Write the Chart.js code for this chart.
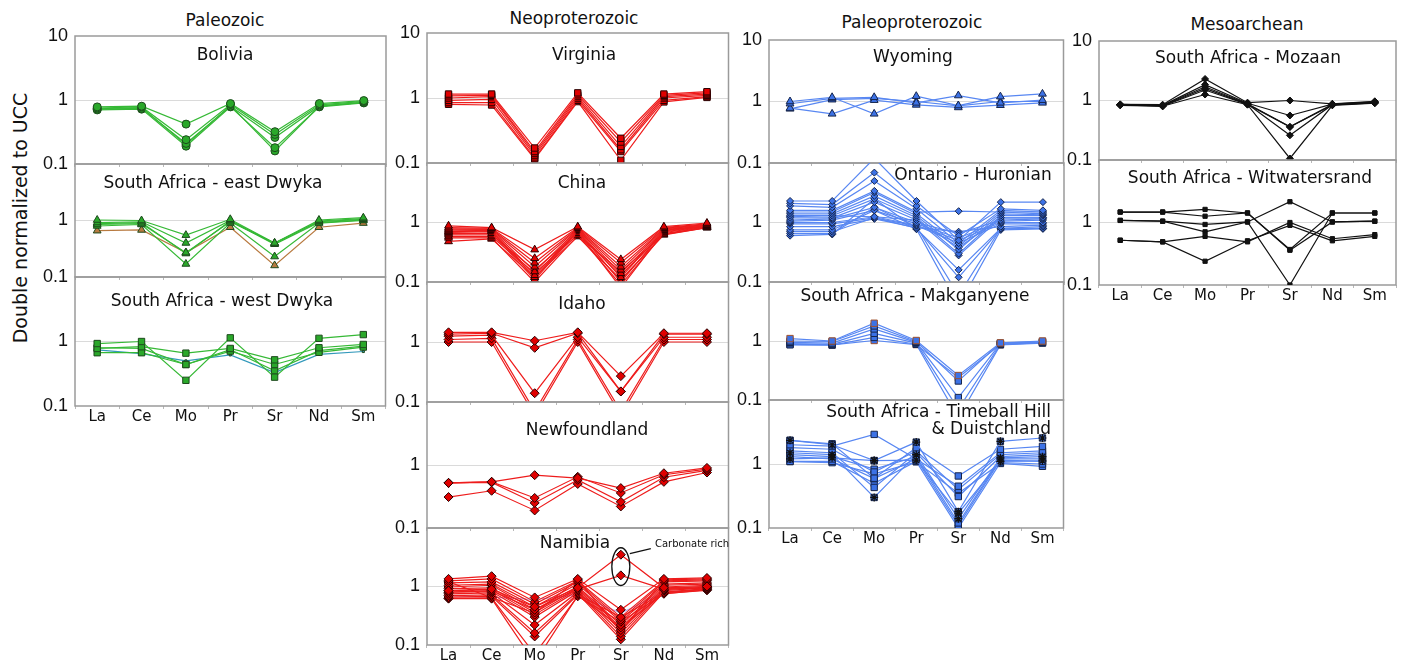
<!DOCTYPE html>
<html>
<head>
<meta charset="utf-8">
<script src="https://cdn.jsdelivr.net/npm/chart.js@4.4.1/dist/chart.umd.min.js"></script>
<style>
    body {
        margin: 0;
        background: #fff;
        width: 1409px;
        height: 661px;
        position: relative;
        overflow: hidden;
        font-family: "DejaVu Sans", sans-serif;
        color: #111;
    }
    canvas { position: absolute; }
    .lbl {
        position: absolute;
        white-space: nowrap;
        transform: translate(-50%, -50%);
        font-size: 17px;
        line-height: 1;
    }
    .ytitle {
        position: absolute;
        left: 20px;
        top: 218px;
        white-space: nowrap;
        font-size: 19px;
        transform: translate(-50%, -50%) rotate(-90deg);
    }
    .note { font-size: 10px; transform: translate(0, -50%); }
    .two {
        position: absolute;
        text-align: right;
        font-size: 17px;
        line-height: 17px;
        white-space: nowrap;
    }
</style>
</head>
<body>

<div class="lbl" style="left:225px; top:20px">Paleozoic</div>
<div class="lbl" style="left:574px; top:18px">Neoproterozoic</div>
<div class="lbl" style="left:912px; top:22px">Paleoproterozoic</div>
<div class="lbl" style="left:1247px; top:24px">Mesoarchean</div>
<div class="ytitle">Double normalized to UCC</div>

<script>
const elements = ['La', 'Ce', 'Mo', 'Pr', 'Sr', 'Nd', 'Sm'];
const yTicks = [0.1, 1, 10];

/* ---------- Paleozoic ---------- */
const bolivia = [
    [0.78, 0.80, 0.42, 0.88, 0.32, 0.88, 0.98],
    [0.75, 0.78, 0.24, 0.85, 0.29, 0.84, 0.95],
    [0.72, 0.74, 0.21, 0.80, 0.26, 0.80, 0.92],
    [0.70, 0.72, 0.19, 0.78, 0.18, 0.78, 0.90],
    [0.73, 0.76, 0.20, 0.82, 0.16, 0.80, 0.92]
];
const eastDwyka = [
    [1.02, 1.00, 0.55, 1.05, 0.40, 1.02, 1.12],
    [0.92, 0.95, 0.40, 1.00, 0.39, 0.98, 1.08],
    [0.85, 0.88, 0.27, 0.95, 0.40, 0.95, 1.05],
    [0.80, 0.85, 0.17, 0.90, 0.23, 0.90, 1.00],
    [0.88, 0.92, 0.26, 0.98, 0.38, 0.92, 1.02],
    [0.66, 0.68, 0.27, 0.76, 0.16, 0.76, 0.90]
];
const westDwyka = [
    [0.93, 1.00, 0.25, 1.14, 0.28, 1.12, 1.28],
    [0.78, 0.83, 0.66, 0.78, 0.52, 0.80, 0.90],
    [0.67, 0.67, 0.44, 0.71, 0.44, 0.68, 0.82],
    [0.80, 0.78, 0.44, 0.75, 0.35, 0.72, 0.85],
    [0.74, 0.65, 0.50, 0.62, 0.33, 0.63, 0.70]
];

/* ---------- Neoproterozoic ---------- */
const virginia = [
    [1.15, 1.15, 0.17, 1.20, 0.24, 1.15, 1.25],
    [1.08, 1.10, 0.15, 1.12, 0.21, 1.10, 1.20],
    [1.00, 1.05, 0.14, 1.05, 0.18, 1.05, 1.15],
    [0.92, 0.95, 0.13, 0.98, 0.16, 1.00, 1.10],
    [0.85, 0.85, 0.12, 0.92, 0.15, 0.92, 1.05],
    [0.80, 0.78, 0.115, 0.88, 0.11, 0.87, 1.02]
];
const china = [
    [0.88, 0.82, 0.35, 0.85, 0.24, 0.85, 0.98],
    [0.82, 0.80, 0.25, 0.82, 0.21, 0.82, 0.95],
    [0.78, 0.78, 0.21, 0.80, 0.18, 0.80, 0.92],
    [0.75, 0.76, 0.18, 0.78, 0.16, 0.78, 0.90],
    [0.72, 0.74, 0.15, 0.76, 0.14, 0.76, 0.88],
    [0.70, 0.72, 0.13, 0.74, 0.12, 0.74, 0.88],
    [0.68, 0.70, 0.12, 0.72, 0.10, 0.72, 0.86],
    [0.65, 0.66, 0.11, 0.70, 0.08, 0.70, 0.85],
    [0.62, 0.62, 0.16, 0.66, 0.13, 0.68, 0.84],
    [0.58, 0.58, 0.14, 0.62, 0.09, 0.65, 0.83],
    [0.55, 0.55, 0.10, 0.60, 0.15, 0.63, 0.82],
    [0.48, 0.53, 0.12, 0.58, 0.11, 0.62, 0.82]
];
const idaho = [
    [1.45, 1.45, 1.05, 1.45, 0.27, 1.40, 1.40],
    [1.35, 1.40, 0.80, 1.40, 0.15, 1.35, 1.35],
    [1.25, 1.30, 0.14, 1.20, 0.15, 1.20, 1.20],
    [1.10, 1.15, 0.07, 1.10, 0.07, 1.10, 1.10],
    [1.00, 1.00, 0.06, 1.00, 0.06, 1.00, 1.00]
];
const newfoundland = [
    [0.52, 0.54, 0.69, 0.62, 0.43, 0.74, 0.90],
    [0.52, 0.54, 0.30, 0.65, 0.36, 0.70, 0.86],
    [0.52, 0.53, 0.25, 0.58, 0.26, 0.64, 0.82],
    [0.31, 0.39, 0.19, 0.50, 0.22, 0.54, 0.76]
];
const namibia = [
    [0.85, 0.90, 0.45, 0.95, 3.50, 0.95, 1.00],
    [0.80, 0.85, 0.40, 0.90, 1.55, 0.90, 0.95],
    [1.35, 1.50, 0.65, 1.35, 0.40, 1.35, 1.40],
    [1.25, 1.35, 0.55, 1.25, 0.30, 1.25, 1.30],
    [1.15, 1.20, 0.50, 1.20, 0.27, 1.20, 1.25],
    [1.05, 1.10, 0.45, 1.10, 0.25, 1.10, 1.15],
    [0.98, 1.05, 0.40, 1.00, 0.22, 1.05, 1.10],
    [0.92, 0.95, 0.36, 0.95, 0.20, 0.98, 1.05],
    [0.85, 0.88, 0.33, 0.90, 0.18, 0.92, 1.00],
    [0.80, 0.82, 0.30, 0.85, 0.16, 0.88, 0.98],
    [0.75, 0.78, 0.22, 0.80, 0.14, 0.85, 0.95],
    [0.70, 0.72, 0.16, 0.76, 0.125, 0.80, 0.92],
    [0.66, 0.68, 0.14, 0.72, 0.30, 0.78, 0.90],
    [0.63, 0.64, 0.07, 0.68, 0.25, 0.75, 0.88],
    [0.62, 0.62, 0.05, 0.70, 0.20, 0.76, 0.86],
    [1.20, 0.65, 0.35, 1.30, 0.17, 1.30, 1.35],
    [0.70, 0.66, 0.60, 0.72, 0.35, 0.80, 0.90]
];

/* ---------- Paleoproterozoic ---------- */
const wyoming = [
    [1.00, 1.17, 0.63, 1.22, 0.86, 1.20, 1.33],
    [0.92, 1.12, 1.17, 0.95, 1.25, 0.95, 1.05],
    [0.78, 0.63, 1.05, 0.88, 0.80, 0.87, 0.95],
    [0.76, 1.07, 1.12, 1.00, 0.85, 1.00, 1.00]
];
const ontario = [
    [2.30, 2.30, 12.0, 2.30, 0.50, 2.20, 2.20],
    [2.10, 2.00, 6.90, 1.90, 0.60, 1.70, 1.60],
    [1.90, 1.80, 5.00, 1.70, 0.45, 1.60, 1.50],
    [1.60, 1.60, 3.40, 1.50, 1.55, 1.50, 1.50],
    [1.50, 1.50, 3.20, 1.40, 0.40, 1.50, 1.40],
    [1.40, 1.40, 2.80, 1.30, 0.35, 1.40, 1.35],
    [1.30, 1.30, 2.50, 1.20, 0.30, 1.30, 1.30],
    [1.20, 1.20, 2.20, 1.10, 0.28, 1.20, 1.20],
    [1.10, 1.15, 1.80, 1.00, 0.65, 1.10, 1.15],
    [1.05, 1.10, 1.60, 0.95, 0.55, 1.05, 1.10],
    [1.00, 1.00, 1.25, 0.90, 0.50, 1.00, 1.00],
    [0.95, 0.95, 1.20, 0.88, 0.45, 0.95, 0.95],
    [0.85, 0.85, 1.15, 0.82, 0.70, 0.85, 0.90],
    [0.75, 0.75, 1.60, 0.78, 0.16, 0.80, 0.85],
    [0.70, 0.70, 1.20, 0.80, 0.12, 0.78, 0.80],
    [0.65, 0.65, 1.80, 0.85, 0.06, 0.80, 0.80],
    [0.60, 0.63, 2.50, 0.77, 0.04, 0.75, 0.78],
    [1.25, 1.30, 1.25, 1.10, 0.38, 1.20, 1.20]
];
const makganyene = [
    [1.10, 1.00, 2.00, 1.02, 0.26, 0.93, 1.00],
    [1.00, 0.98, 1.80, 0.98, 0.21, 0.92, 0.98],
    [0.95, 0.92, 1.60, 0.95, 0.11, 0.90, 0.96],
    [0.90, 0.88, 1.35, 0.92, 0.07, 0.88, 0.95],
    [0.86, 0.85, 1.15, 0.88, 0.05, 0.86, 0.92],
    [0.88, 0.86, 1.02, 0.87, 0.24, 0.87, 0.94]
];
const timeball = [
    [2.34, 2.00, 1.13, 2.20, 0.18, 2.26, 2.55],
    [2.34, 2.07, 0.60, 1.80, 0.65, 1.70, 1.88],
    [2.00, 1.90, 2.90, 1.20, 0.45, 1.50, 1.60],
    [1.80, 1.70, 0.75, 1.60, 0.40, 1.40, 1.50],
    [1.60, 1.50, 0.43, 1.50, 0.31, 1.30, 1.40],
    [1.50, 1.40, 0.30, 1.40, 0.14, 1.25, 1.30],
    [1.40, 1.30, 0.83, 1.30, 0.12, 1.20, 1.20],
    [1.30, 1.20, 0.59, 1.20, 0.11, 1.15, 1.10],
    [1.20, 1.25, 1.13, 1.15, 0.17, 1.10, 1.12],
    [1.10, 1.10, 0.50, 1.10, 0.10, 1.05, 1.00],
    [1.09, 1.05, 0.70, 1.08, 0.35, 1.02, 0.92]
];

/* ---------- Mesoarchean ---------- */
const mozaan = [
    [0.86, 0.85, 2.30, 0.92, 1.00, 0.88, 0.97],
    [0.86, 0.83, 1.85, 0.90, 0.56, 0.87, 0.95],
    [0.85, 0.82, 1.70, 0.88, 0.36, 0.86, 0.93],
    [0.85, 0.81, 1.60, 0.87, 0.26, 0.85, 0.92],
    [0.84, 0.80, 1.50, 0.86, 0.36, 0.84, 0.91],
    [0.83, 0.80, 1.26, 0.85, 0.106, 0.83, 0.90]
];
const witwatersrand = [
    [1.47, 1.47, 1.62, 1.42, 0.37, 1.42, 1.42],
    [1.47, 1.47, 1.26, 1.42, 0.36, 1.02, 1.05],
    [1.08, 1.05, 0.93, 1.02, 2.15, 1.02, 1.05],
    [1.08, 1.05, 0.71, 1.02, 0.10, 1.42, 1.42],
    [0.52, 0.49, 0.60, 0.49, 1.00, 0.55, 0.64],
    [0.52, 0.49, 0.24, 0.51, 0.90, 0.51, 0.60]
];

// colour schemes: line, marker fill, marker edge
const GREEN = { line: '#36b936', fill: '#2aa82a', edge: '#1d4a1d' };
const RED = { line: '#ee1c1c', fill: '#e00000', edge: '#2a0000' };
const BLUE = { line: '#5887f2', fill: '#3c72e6', edge: '#17264d' };
const BLACK = { line: '#111111', fill: '#111111', edge: '#111111' };

// box = [left, top, right, bottom] of the plot area
const panels = [
    { title: 'Bolivia', data: bolivia, box: [75, 36, 387, 164], top: true, s: GREEN, marker: 'circle', r: 4, tx: 225, ty: 54 },
    { title: 'South Africa - east Dwyka', data: eastDwyka, box: [75, 164, 387, 277], s: GREEN, marker: 'triangle', r: 4.5, tx: 213, ty: 182, tint: { 5: '#b87a40' } },
    { title: 'South Africa - west Dwyka', data: westDwyka, box: [75, 277, 387, 406], bottom: true, s: GREEN, marker: 'rect', r: 4.5, tx: 222, ty: 300, tint: { 4: '#3399bb' }, radii: { 4: 1.5 } },

    { title: 'Virginia', data: virginia, box: [427, 33, 730, 163], top: true, s: RED, marker: 'rect', r: 4.5, tx: 584, ty: 54 },
    { title: 'China', data: china, box: [427, 163, 730, 282], s: RED, marker: 'triangle', r: 4.5, tx: 582, ty: 182 },
    { title: 'Idaho', data: idaho, box: [427, 282, 730, 402], s: RED, marker: 'rectRot', r: 4.5, tx: 582, ty: 303 },
    { title: 'Newfoundland', data: newfoundland, box: [427, 402, 730, 528], s: RED, marker: 'rectRot', r: 4.5, tx: 587, ty: 429 },
    { title: 'Namibia', data: namibia, box: [427, 528, 730, 645], bottom: true, s: RED, marker: 'rectRot', r: 4.5, tx: 575, ty: 542, tint: { 16: '#b4a6e6' }, radii: { 16: 0 }, ring: true },

    { title: 'Wyoming', data: wyoming, box: [769, 40, 1065, 163], top: true, s: BLUE, marker: 'triangle', r: 4.5, tx: 913, ty: 56 },
    { title: 'Ontario - Huronian', data: ontario, box: [769, 163, 1065, 282], s: BLUE, marker: 'rectRot', r: 3.5, tx: 973, ty: 174 },
    { title: 'South Africa - Makganyene', data: makganyene, box: [769, 282, 1065, 400], s: BLUE, marker: 'rect', r: 4.5, tx: 915, ty: 295, edges: { 0: '#a0522d', 5: '#a0522d' } },
    { title: null, data: timeball, box: [769, 400, 1065, 528], bottom: true, s: BLUE, marker: 'rect', r: 4.5, starred: [0, 5, 8] },

    { title: 'South Africa - Mozaan', data: mozaan, box: [1099, 41, 1397, 160], top: true, s: BLACK, marker: 'rectRot', r: 3.5, tx: 1248, ty: 57 },
    { title: 'South Africa - Witwatersrand', data: witwatersrand, box: [1099, 160, 1397, 285], bottom: true, s: BLACK, marker: 'rect', r: 3, tx: 1250, ty: 177 }
];

const PAD_L = 46;   // room for the y tick labels
const PAD_T = 19;   // y scale asks for half a label + tick padding
const PAD_R = 4;
const X_AXIS_H = 26;

// grey box round each panel
const framePlugin = {
    id: 'frame',
    beforeDatasetsDraw(chart) {
        const { ctx, chartArea: a } = chart;
        ctx.save();
        ctx.strokeStyle = '#9a9a9a';
        ctx.lineWidth = 1.5;
        ctx.strokeRect(a.left, a.top, a.right - a.left, a.bottom - a.top);
        ctx.restore();
    }
};

// ellipse round the carbonate-rich Sr points, plus its leader line
const ringPlugin = {
    id: 'ring',
    afterDatasetsDraw(chart) {
        const { ctx, scales: { x, y } } = chart;
        const cx = x.getPixelForValue(elements.indexOf('Sr'));
        const top = y.getPixelForValue(4.6);
        const bot = y.getPixelForValue(1.04);
        ctx.save();
        ctx.strokeStyle = '#111';
        ctx.lineWidth = 1.3;
        ctx.beginPath();
        ctx.ellipse(cx, (top + bot) / 2, 9, (bot - top) / 2, 0, 0, Math.PI * 2);
        ctx.stroke();
        ctx.beginPath();
        ctx.moveTo(cx + 9, top + 6);
        ctx.lineTo(cx + 30, top + 1);
        ctx.stroke();
        ctx.restore();
    }
};

function addLabel(html, x, y, cls) {
    const d = document.createElement('div');
    d.className = cls || 'lbl';
    d.innerHTML = html;
    d.style.left = x + 'px';
    d.style.top = y + 'px';
    document.body.appendChild(d);
    return d;
}

panels.forEach(p => {
    const [l, t, r, b] = p.box;
    const padB = p.bottom ? 6 : PAD_T;
    const w = (r - l) + PAD_L + PAD_R;
    const h = (b - t) + PAD_T + padB + (p.bottom ? X_AXIS_H : 0);

    const canvas = document.createElement('canvas');
    canvas.width = w;
    canvas.height = h;
    canvas.style.left = (l - PAD_L) + 'px';
    canvas.style.top = (t - PAD_T) + 'px';
    document.body.appendChild(canvas);

    const datasets = p.data.map((row, i) => {
        const tint = p.tint && p.tint[i];
        const edge = (p.edges && p.edges[i]) || p.s.edge;
        const radius = p.radii && p.radii[i] !== undefined ? p.radii[i] : p.r;
        return {
            data: row,
            borderColor: tint || p.s.line,
            backgroundColor: tint || p.s.fill,
            borderWidth: 1.2,
            pointStyle: p.marker,
            pointRadius: radius,
            pointBackgroundColor: tint || p.s.fill,
            pointBorderColor: edge,
            pointBorderWidth: 1,
            tension: 0
        };
    });

    // asterisk marks laid over some of the square markers
    (p.starred || []).forEach(i => {
        datasets.unshift({
            data: p.data[i],
            showLine: false,
            pointStyle: 'star',
            pointRadius: 4,
            pointBorderColor: '#111',
            pointBorderWidth: 1.2
        });
    });

    new Chart(canvas.getContext('2d'), {
        type: 'line',
        data: { labels: elements, datasets },
        options: {
            responsive: false,
            animation: false,
            devicePixelRatio: 1,
            layout: { padding: { top: PAD_T, bottom: padB, left: 0, right: PAD_R } },
            plugins: { legend: { display: false }, tooltip: { enabled: false } },
            scales: {
                x: {
                    offset: true,
                    border: { display: false },
                    grid: { offset: true, drawOnChartArea: false, tickLength: 3, color: '#b8b8b8' },
                    ticks: {
                        display: !!p.bottom,
                        padding: -1,
                        color: '#111',
                        font: { family: 'DejaVu Sans', size: 15 }
                    },
                    afterFit: s => { s.height = p.bottom ? X_AXIS_H : 0; }
                },
                y: {
                    type: 'logarithmic',
                    min: 0.1,
                    max: 10,
                    border: { display: false },
                    afterBuildTicks: s => { s.ticks = yTicks.map(v => ({ value: v })); },
                    afterFit: s => { s.width = PAD_L; },
                    grid: {
                        drawTicks: false,
                        color: c => (c.tick && c.tick.value === 1 ? '#dadada' : 'rgba(0,0,0,0)')
                    },
                    ticks: {
                        padding: 7,
                        color: '#111',
                        font: { family: 'Liberation Sans', size: 18 },
                        callback: v => (v === 10 ? (p.top ? '10' : '') : v === 1 ? '1' : '0.1')
                    }
                }
            }
        },
        plugins: p.ring ? [framePlugin, ringPlugin] : [framePlugin]
    });

    if (p.title) addLabel(p.title, p.tx, p.ty);
});

// two-line title, right aligned
const tb = document.createElement('div');
tb.className = 'two';
tb.innerHTML = 'South Africa - Timeball Hill<br>&amp; Duistchland';
tb.style.right = (1409 - 1051) + 'px';
tb.style.top = '403px';
document.body.appendChild(tb);

addLabel('Carbonate rich', 655, 544, 'lbl note');
</script>
</body>
</html>
